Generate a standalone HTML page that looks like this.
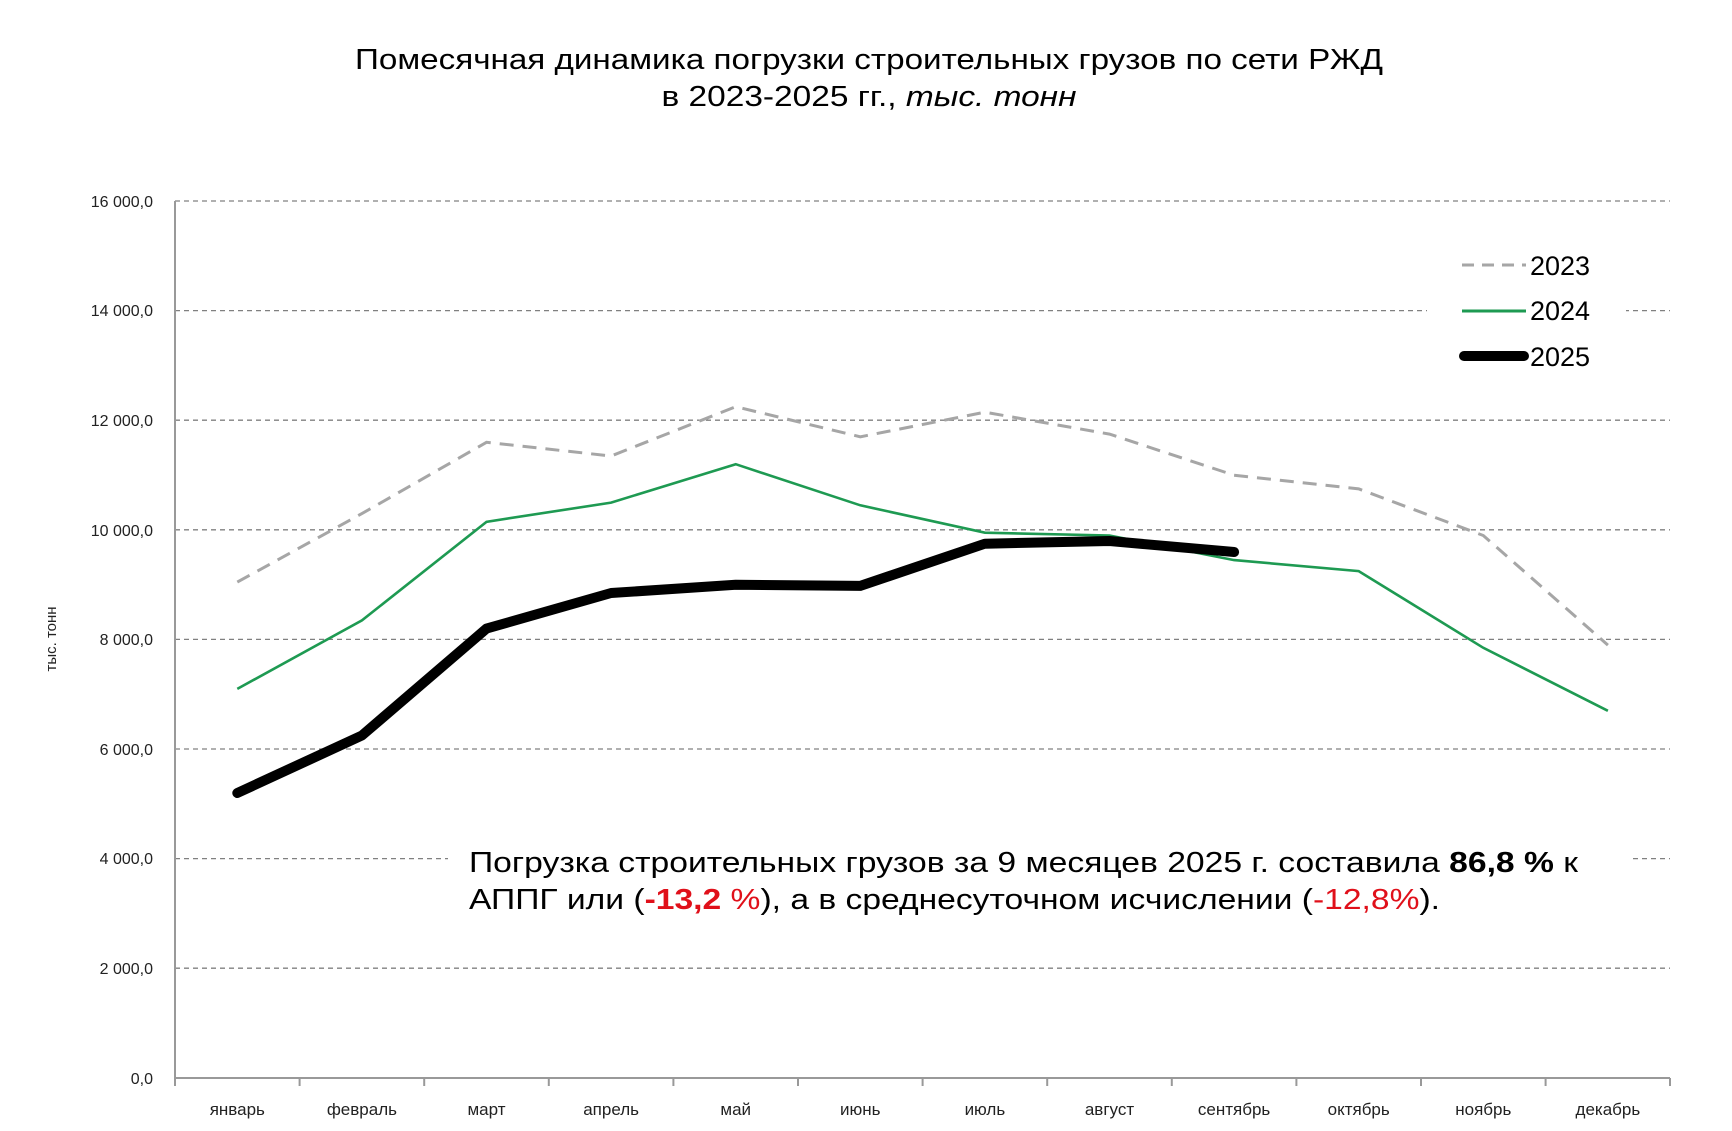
<!DOCTYPE html>
<html><head><meta charset="utf-8"><style>body{margin:0;background:#fff}svg{display:block}</style></head><body>
<svg width="1732" height="1131" viewBox="0 0 1732 1131" xmlns="http://www.w3.org/2000/svg" font-family="Liberation Sans, Arial, sans-serif">
<rect width="1732" height="1131" fill="#fff"/>
<text x="869" y="69" font-size="29" text-anchor="middle" fill="#000" textLength="1028" lengthAdjust="spacingAndGlyphs">Помесячная динамика  погрузки строительных грузов по сети РЖД</text>
<text x="869" y="106" font-size="29" text-anchor="middle" fill="#000" textLength="415" lengthAdjust="spacingAndGlyphs">в 2023-2025 гг., <tspan font-style="italic">тыс. тонн</tspan></text>
<g stroke="#808080" stroke-width="1.3" stroke-dasharray="5,4">
<line x1="175" y1="201" x2="1670" y2="201"/>
<line x1="175" y1="310.6" x2="1670" y2="310.6"/>
<line x1="175" y1="420.2" x2="1670" y2="420.2"/>
<line x1="175" y1="529.8" x2="1670" y2="529.8"/>
<line x1="175" y1="639.4" x2="1670" y2="639.4"/>
<line x1="175" y1="749" x2="1670" y2="749"/>
<line x1="175" y1="858.6" x2="1670" y2="858.6"/>
<line x1="175" y1="968.2" x2="1670" y2="968.2"/>
</g>
<g stroke="#999" stroke-width="2">
<line x1="175" y1="201" x2="175" y2="1078"/>
<line x1="175" y1="1078" x2="1670" y2="1078"/>
<line x1="175" y1="1078" x2="175" y2="1086"/><line x1="299.6" y1="1078" x2="299.6" y2="1086"/><line x1="424.2" y1="1078" x2="424.2" y2="1086"/><line x1="548.8" y1="1078" x2="548.8" y2="1086"/><line x1="673.4" y1="1078" x2="673.4" y2="1086"/><line x1="798" y1="1078" x2="798" y2="1086"/><line x1="922.6" y1="1078" x2="922.6" y2="1086"/><line x1="1047.2" y1="1078" x2="1047.2" y2="1086"/><line x1="1171.8" y1="1078" x2="1171.8" y2="1086"/><line x1="1296.4" y1="1078" x2="1296.4" y2="1086"/><line x1="1421" y1="1078" x2="1421" y2="1086"/><line x1="1545.6" y1="1078" x2="1545.6" y2="1086"/><line x1="1670" y1="1078" x2="1670" y2="1086"/>
</g>
<g font-size="16" fill="#222" text-anchor="end">
<text x="153" y="207">16 000,0</text><text x="153" y="316">14 000,0</text><text x="153" y="426">12 000,0</text><text x="153" y="536">10 000,0</text><text x="153" y="645">8 000,0</text><text x="153" y="755">6 000,0</text><text x="153" y="864">4 000,0</text><text x="153" y="974">2 000,0</text><text x="153" y="1084">0,0</text>
</g>
<g font-size="17" fill="#222" text-anchor="middle">
<text x="237.3" y="1115">январь</text><text x="361.9" y="1115">февраль</text><text x="486.5" y="1115">март</text><text x="611.1" y="1115">апрель</text><text x="735.7" y="1115">май</text><text x="860.3" y="1115">июнь</text><text x="984.9" y="1115">июль</text><text x="1109.5" y="1115">август</text><text x="1234.1" y="1115">сентябрь</text><text x="1358.7" y="1115">октябрь</text><text x="1483.3" y="1115">ноябрь</text><text x="1607.9" y="1115">декабрь</text>
</g>
<text transform="translate(56,639) rotate(-90)" font-size="15" text-anchor="middle" fill="#222">тыс. тонн</text>
<polyline fill="none" stroke="#a6a6a6" stroke-width="3" stroke-dasharray="14,9" points="237.3,582.1 361.9,513.6 486.5,442.3 611.1,456 735.7,406.7 860.3,436.8 984.9,412.2 1109.5,434.1 1234.1,475.2 1358.7,488.9 1483.3,535.5 1607.9,645.1"/>
<polyline fill="none" stroke="#1e9a52" stroke-width="2.6" points="237.3,688.9 361.9,620.4 486.5,521.8 611.1,502.6 735.7,464.2 860.3,505.3 984.9,532.7 1109.5,535.5 1234.1,560.1 1358.7,571.1 1483.3,647.8 1607.9,710.8"/>
<polyline fill="none" stroke="#000" stroke-width="10" stroke-linecap="round" stroke-linejoin="round" points="237.3,793 361.9,735.5 486.5,628.6 611.1,593 735.7,584.8 860.3,585.9 984.9,543.7 1109.5,541 1234.1,552"/>
<rect x="1427" y="245" width="199" height="125" fill="#fff"/>
<line x1="1462" y1="265" x2="1526" y2="265" stroke="#a6a6a6" stroke-width="3" stroke-dasharray="12,8"/>
<line x1="1462" y1="311" x2="1526" y2="311" stroke="#1e9a52" stroke-width="3"/>
<line x1="1464" y1="356" x2="1524" y2="356" stroke="#000" stroke-width="10" stroke-linecap="round"/>
<g font-size="27" fill="#000"><text x="1530" y="275">2023</text><text x="1530" y="320">2024</text><text x="1530" y="366">2025</text></g>
<rect x="448" y="838" width="1183" height="82" fill="#fff"/>
<text x="469" y="872" font-size="29" fill="#000" textLength="1109" lengthAdjust="spacingAndGlyphs">Погрузка строительных грузов за 9 месяцев  2025 г. составила <tspan font-weight="bold">86,8 %</tspan> к</text>
<text x="469" y="909" font-size="29" fill="#000" textLength="971" lengthAdjust="spacingAndGlyphs">АППГ или (<tspan fill="#e0101a" font-weight="bold">-13,2 </tspan><tspan fill="#e0101a">%</tspan>),  а в среднесуточном исчислении (<tspan fill="#e0101a">-12,8%</tspan>).</text>
</svg>
</body></html>
